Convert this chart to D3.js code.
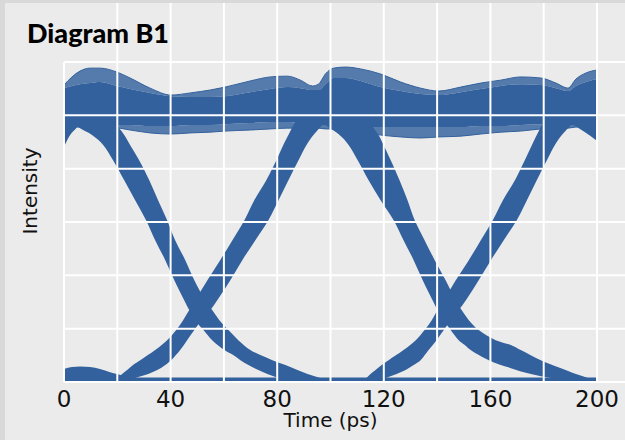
<!DOCTYPE html>
<html>
<head>
<meta charset="utf-8">
<script src="https://cdn.jsdelivr.net/npm/d3@7"></script>
<style>
  body { margin: 0; background: #ebebeb; }
  text { font-family: "DejaVu Sans", sans-serif; }
</style>
</head>
<body>
<div id="chart"></div>
<script>
// tick labels and grid steps
var tickT = [0, 40, 80, 120, 160, 200];
var gridT = [0, 20, 40, 60, 80, 100, 120, 140, 160, 180, 200];
var gridV = [0, 0.2, 0.4, 0.6, 0.8, 1.0, 1.2];

// high level band, sampled along time (ps)
var topT     = [0, 6.0, 9.8, 13.5, 19.9, 24.8, 32.3, 40.2, 47.4, 54.9, 60.5, 69.9, 77.4, 83.8, 88.7, 93.2, 95.5, 98.1, 101.1, 105.6, 111.3, 118.8, 126.3, 133.8, 140.6, 148.9, 156.4, 163.9, 171.4, 178.9, 184.6, 189.1, 192.1, 195.9, 200];
var topEnvHi = [1.114, 1.166, 1.177, 1.177, 1.162, 1.140, 1.102, 1.076, 1.084, 1.095, 1.106, 1.129, 1.144, 1.147, 1.132, 1.110, 1.117, 1.155, 1.177, 1.181, 1.174, 1.155, 1.125, 1.102, 1.091, 1.106, 1.121, 1.132, 1.144, 1.140, 1.121, 1.102, 1.136, 1.159, 1.170];
var topCoreHi = [1.102, 1.117, 1.121, 1.125, 1.110, 1.099, 1.084, 1.072, 1.069, 1.069, 1.072, 1.087, 1.099, 1.106, 1.102, 1.095, 1.095, 1.117, 1.140, 1.140, 1.129, 1.106, 1.091, 1.080, 1.076, 1.087, 1.099, 1.110, 1.117, 1.114, 1.102, 1.091, 1.110, 1.125, 1.136];
var topCoreLo = [0.964, 0.964, 0.964, 0.964, 0.964, 0.964, 0.960, 0.960, 0.964, 0.964, 0.967, 0.971, 0.975, 0.975, 0.971, 0.967, 0.964, 0.964, 0.960, 0.960, 0.956, 0.956, 0.956, 0.956, 0.956, 0.956, 0.960, 0.960, 0.964, 0.967, 0.967, 0.964, 0.964, 0.964, 0.964];
var topEnvLo = [0.956, 0.956, 0.956, 0.952, 0.952, 0.945, 0.934, 0.930, 0.934, 0.937, 0.941, 0.945, 0.949, 0.952, 0.952, 0.952, 0.952, 0.949, 0.949, 0.945, 0.937, 0.926, 0.919, 0.915, 0.919, 0.922, 0.930, 0.937, 0.941, 0.949, 0.952, 0.952, 0.956, 0.956, 0.956];

// low level band
var lowT  = [0, 3.0, 6.0, 9.8, 13.5, 17.3, 19.9, 25, 200];
var lowHi = [0.049, 0.056, 0.058, 0.056, 0.049, 0.037, 0.030, 0.017, 0.017];
var lowLo = [0.004, 0.004, 0.004, 0.004, 0.004, 0.004, 0.004, 0.004, 0.004];

// transitions: [intensity, left edge t, right edge t]
var rise0 = [[0.881, 0, 0], [0.926, 0, 2.3], [0.956, 0, 4.9], [0.982, 0, 6.0]];
var fall1 = [
  [0.982, 2.3, 17.3], [0.956, 5.3, 20.3], [0.926, 10.5, 22.6], [0.889, 14.7, 24.8],
  [0.832, 18.4, 28.2], [0.757, 22.6, 32.0], [0.682, 26.7, 35.3], [0.607, 30.8, 38.7],
  [0.532, 34.2, 41.7], [0.457, 38.0, 45.5], [0.382, 41.4, 48.9], [0.307, 45.1, 53.0],
  [0.270, 47.0, 55.6], [0.232, 49.2, 58.3], [0.195, 52.3, 61.7], [0.157, 55.6, 65.4],
  [0.120, 60.2, 69.9], [0.101, 63.5, 73.7], [0.082, 66.2, 78.2], [0.064, 69.2, 83.1],
  [0.045, 72.9, 87.6], [0.030, 76.3, 91.4], [0.015, 80.5, 96.2], [0.004, 85.7, 101.1]
];
var rise1 = [
  [0.004, 19.5, 22.9], [0.015, 20.3, 26.7], [0.030, 21.8, 31.6], [0.045, 23.7, 35.0],
  [0.064, 25.9, 38.0], [0.082, 28.6, 40.2], [0.120, 34.2, 43.6], [0.157, 38.7, 46.2],
  [0.195, 42.1, 48.9], [0.232, 44.7, 51.5], [0.270, 47.0, 54.9], [0.307, 49.2, 57.5],
  [0.382, 53.8, 62.4], [0.457, 58.6, 66.9], [0.532, 63.2, 71.8], [0.607, 67.7, 76.7],
  [0.682, 71.4, 80.5], [0.757, 75.9, 84.2], [0.832, 79.7, 88.0], [0.889, 82.3, 91.0],
  [0.926, 84.2, 93.6], [0.956, 85.7, 96.2], [0.982, 87.2, 98.5]
];
var fall2 = [
  [0.982, 96.2, 113.5], [0.956, 99.2, 115.8], [0.926, 103.4, 118.0], [0.889, 106.8, 119.9],
  [0.832, 110.2, 122.6], [0.757, 114.3, 125.9], [0.682, 118.8, 128.9], [0.607, 123.7, 131.6],
  [0.532, 127.4, 135.3], [0.457, 131.2, 139.1], [0.382, 134.6, 143.2], [0.307, 138.3, 147.0],
  [0.270, 140.2, 149.2], [0.232, 142.5, 151.9], [0.195, 145.1, 155.6], [0.157, 148.1, 162.0],
  [0.139, 150.4, 167.7], [0.120, 152.6, 171.4], [0.082, 159.4, 178.9], [0.052, 167.7, 186.5],
  [0.030, 175.2, 192.1], [0.015, 182.7, 196.6], [0.004, 189.5, 200]
];
var rise2 = [
  [0.004, 112.0, 116.9], [0.015, 113.5, 120.7], [0.030, 115.0, 124.8], [0.045, 116.9, 128.2],
  [0.064, 119.2, 131.2], [0.082, 121.8, 133.8], [0.120, 127.4, 136.8], [0.157, 132.0, 139.8],
  [0.195, 135.3, 142.5], [0.232, 138.0, 145.1], [0.270, 140.2, 148.1], [0.307, 142.5, 150.8],
  [0.382, 147.0, 155.6], [0.457, 151.9, 160.2], [0.532, 156.4, 165.0], [0.607, 160.9, 169.9],
  [0.682, 164.7, 173.7], [0.757, 169.2, 177.4], [0.832, 172.9, 181.2], [0.889, 175.6, 184.2],
  [0.926, 177.4, 186.8], [0.956, 178.9, 189.5], [0.982, 180.5, 191.7]
];
var fall3 = [[0.982, 188.7, 200], [0.956, 192.5, 200], [0.926, 197.0, 200], [0.904, 200, 200]];

var W = 625, H = 440;
var blue = '#33619d';

var svg = d3.select('#chart').append('svg')
    .attr('width', W).attr('height', H);

// outer frame and panel background
svg.append('rect').attr('width', W).attr('height', H).attr('fill', '#d9d9d9');
svg.append('rect').attr('x', 5).attr('y', 3).attr('width', W - 5).attr('height', H - 3)
    .attr('fill', '#ebebeb');

var x = d3.scaleLinear().domain([0, 200]).range([64, 597]);
var y = d3.scaleLinear().domain([0, 1.2]).range([382, 62]);

svg.append('clipPath').attr('id', 'clip')
  .append('rect').attr('x', x(0)).attr('y', 0).attr('width', x(200) - x(0)).attr('height', y(0));

var plot = svg.append('g').attr('clip-path', 'url(#clip)');

// area along time between two intensity rows
function timeBand(ts, lo, hi) {
  var rows = ts.map(function(t, i) { return [t, lo[i], hi[i]]; });
  return d3.area()
      .x(function(d) { return x(d[0]); })
      .y0(function(d) { return y(d[1]); })
      .y1(function(d) { return y(d[2]); })
      .curve(d3.curveMonotoneX)(rows);
}

// area along intensity between two time edges
var levelBand = d3.area()
    .y(function(d) { return y(d[0]); })
    .x0(function(d) { return x(d[1]); })
    .x1(function(d) { return x(d[2]); })
    .curve(d3.curveCatmullRom);

// low level
plot.append('path').attr('d', timeBand(lowT, lowLo, lowHi)).attr('fill', blue);

// high level: faint outer traces, then the dense core
plot.append('path').attr('d', timeBand(topT, topCoreHi, topEnvHi))
    .attr('fill', blue).attr('opacity', 0.82);
plot.append('path').attr('d', timeBand(topT, topEnvLo, topCoreLo))
    .attr('fill', blue).attr('opacity', 0.82);
plot.append('path').attr('d', timeBand(topT, topCoreLo, topCoreHi)).attr('fill', blue);

// outermost traces
var envLine = d3.line()
    .x(function(d) { return x(d[0]); })
    .y(function(d) { return y(d[1]); })
    .curve(d3.curveMonotoneX);
[topEnvHi, topEnvLo].forEach(function(arr) {
  plot.append('path')
      .attr('d', envLine(topT.map(function(t, i) { return [t, arr[i]]; })))
      .attr('fill', 'none').attr('stroke', blue).attr('stroke-width', 1);
});

// transitions
[rise0, fall1, rise1, fall2, rise2, fall3].forEach(function(band) {
  plot.append('path').attr('d', levelBand(band)).attr('fill', blue);
});

// grid sits on top of the traces
var grid = svg.append('g').attr('stroke', '#ffffff').attr('stroke-width', 2);
grid.selectAll('line.v').data(gridT).enter().append('line')
    .attr('x1', function(d) { return x(d); })
    .attr('x2', function(d) { return x(d); })
    .attr('y1', function(d) { return d === 0 ? y(1.2) : 3; })
    .attr('y2', y(0));
grid.selectAll('line.h').data(gridV).enter().append('line')
    .attr('x1', x(0)).attr('x2', W)
    .attr('y1', function(d) { return y(d); })
    .attr('y2', function(d) { return y(d); });

// x tick labels
svg.selectAll('text.tick').data(tickT).enter().append('text')
    .attr('class', 'tick')
    .attr('x', function(d) { return x(d); })
    .attr('y', 407)
    .attr('text-anchor', 'middle')
    .style('font-size', '23px')
    .attr('fill', '#111')
    .text(function(d) { return d; });

// axis titles
svg.append('text')
    .attr('x', (x(0) + x(200)) / 2).attr('y', 427)
    .attr('text-anchor', 'middle')
    .style('font-size', '20px')
    .attr('fill', '#111')
    .text('Time (ps)');

svg.append('text')
    .attr('transform', 'translate(37,191) rotate(-90)')
    .attr('text-anchor', 'middle')
    .style('font-size', '20px')
    .attr('fill', '#111')
    .text('Intensity');

// title
svg.append('text')
    .attr('x', 27).attr('y', 43)
    .attr('textLength', 142).attr('lengthAdjust', 'spacingAndGlyphs')
    .style('font-family', 'Lato, sans-serif')
    .style('font-weight', 900)
    .style('font-size', '26px')
    .attr('fill', '#000')
    .text('Diagram B1');
</script>
</body>
</html>
